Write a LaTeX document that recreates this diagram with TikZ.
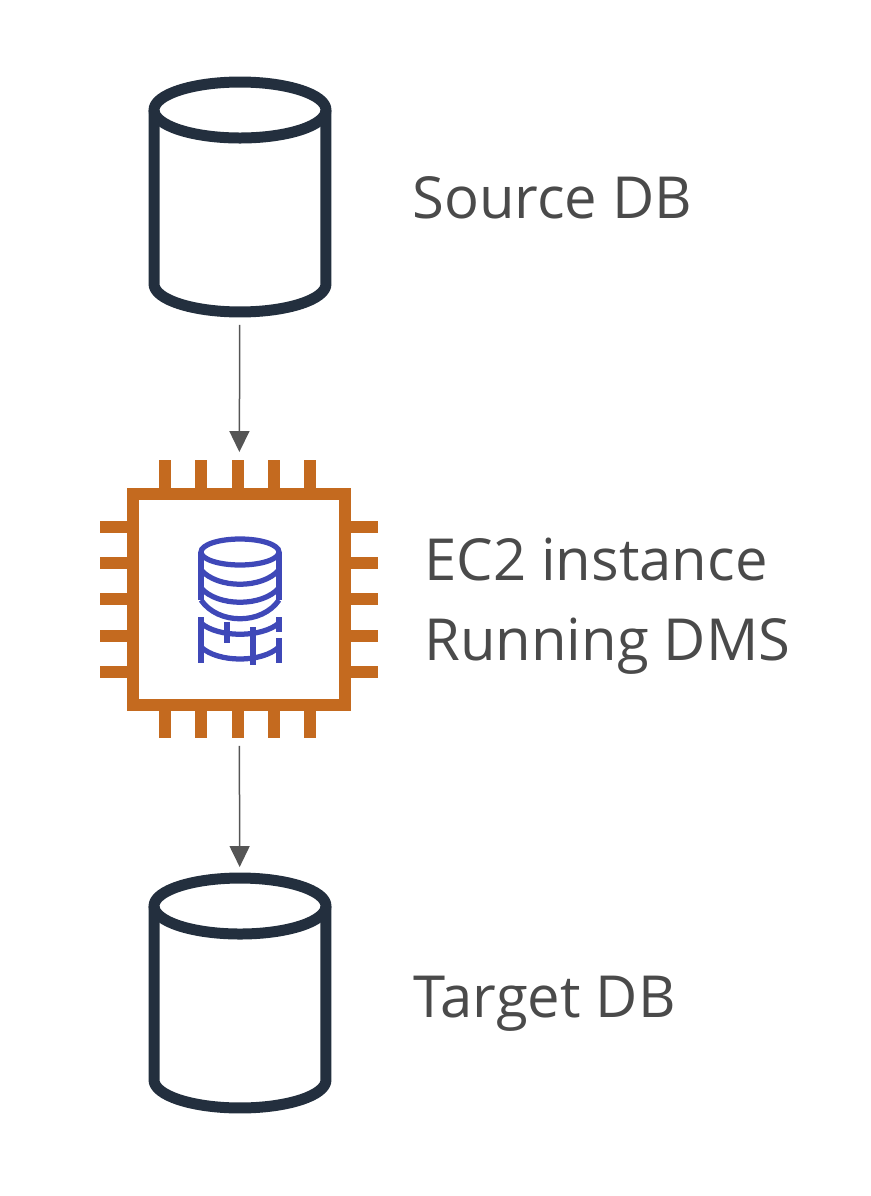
\documentclass[tikz,border=0pt]{standalone}
\usepackage{fontspec}
\setmainfont{Open Sans}
\usetikzlibrary{arrows.meta}
\definecolor{dbline}{HTML}{232F3E}
\definecolor{chipline}{HTML}{C46A1F}
\definecolor{dmsline}{HTML}{3F48B8}
\definecolor{labeltext}{HTML}{4A4A4A}
\definecolor{flowline}{HTML}{555555}
\tikzset{
    dbbox/.style={inner sep=0pt,outer sep=0pt,minimum width=3.44cm,minimum height=4.6cm},
    dbicon/.style={draw=dbline,line width=0.22cm,line join=round},
    chipbox/.style={inner sep=0pt,outer sep=0pt,minimum width=5.58cm,minimum height=5.56cm},
    chippin/.style={draw=chipline,line width=0.235cm},
    dmsicon/.style={draw=dmsline,line width=0.105cm},
    labelnode/.style={anchor=base west,text=labeltext,font=\fontsize{33}{33}\selectfont},
    flow/.style={draw=flowline,line width=0.03cm,-{Triangle[length=0.42cm,width=0.4cm]}}
}
\begin{document}
\begin{tikzpicture}[x=0.02cm,y=-0.02cm]
    \useasboundingbox (0,0) rectangle (870,1196);

    % Source and target databases
    \node[dbbox] (sourcedb) at (240,197) {};
    \node[dbbox] (targetdb) at (240,993) {};
    \foreach \dbname in {sourcedb,targetdb} {
        \draw[dbicon] ([yshift=-0.56cm]\dbname.north) ellipse (1.72cm and 0.56cm);
        \draw[dbicon] ([yshift=-0.56cm]\dbname.north west) -- ([yshift=0.56cm]\dbname.south west)
            arc (180:360:1.72cm and 0.56cm) -- ([yshift=-0.56cm]\dbname.north east);
    }

    % EC2 chip
    \node[chipbox] (chip) at (239,599) {};
    \draw[chipline,line width=0.235cm] (133,494) rectangle (345,705);
    \foreach \px in {165,201,238,274,310} {
        \draw[chippin] (\px,460) -- (\px,488);
        \draw[chippin] (\px,711) -- (\px,738);
    }
    \foreach \py in {527,563,599,636,672} {
        \draw[chippin] (100,\py) -- (127,\py);
        \draw[chippin] (351,\py) -- (378,\py);
    }

    % DMS icon
    \draw[dmsicon] (240,552) ellipse (39 and 13);
    \draw[dmsicon] (201,552) -- (201,600);
    \draw[dmsicon] (279,552) -- (279,600);
    \draw[dmsicon] (201,570) .. controls (218,589) and (262,589) .. (279,570);
    \draw[dmsicon] (201,588) .. controls (218,607) and (262,607) .. (279,588);
    \draw[dmsicon] (201,600) .. controls (218,625) and (262,625) .. (279,600);
    \draw[dmsicon] (201,617) -- (201,663);
    \draw[dmsicon] (279,617) -- (279,632);
    \draw[dmsicon] (279,638) -- (279,663);
    \draw[dmsicon] (201,623) .. controls (218,638) and (262,638) .. (279,623);
    \draw[dmsicon] (201,647) .. controls (218,663) and (262,663) .. (279,647);
    \draw[dmsicon] (227,622) -- (227,643);
    \draw[dmsicon] (253,627) -- (253,665);

    % Labels
    \node[labelnode] (sourcelabel) at (406,218) {Source DB};
    \node[labelnode] (chiplabel) at (418,580) {EC2 instance};
    \node[labelnode] (dmslabel) at (418,660) {Running DMS};
    \node[labelnode] (targetlabel) at (407,1017) {Target DB};

    % Arrows showing the flow
    \draw[flow,shorten <=0.26cm,shorten >=0.16cm] (sourcedb) -- (chip);
    \draw[flow,shorten <=0.16cm,shorten >=0.22cm] (chip) -- (targetdb);
\end{tikzpicture}
\end{document}
